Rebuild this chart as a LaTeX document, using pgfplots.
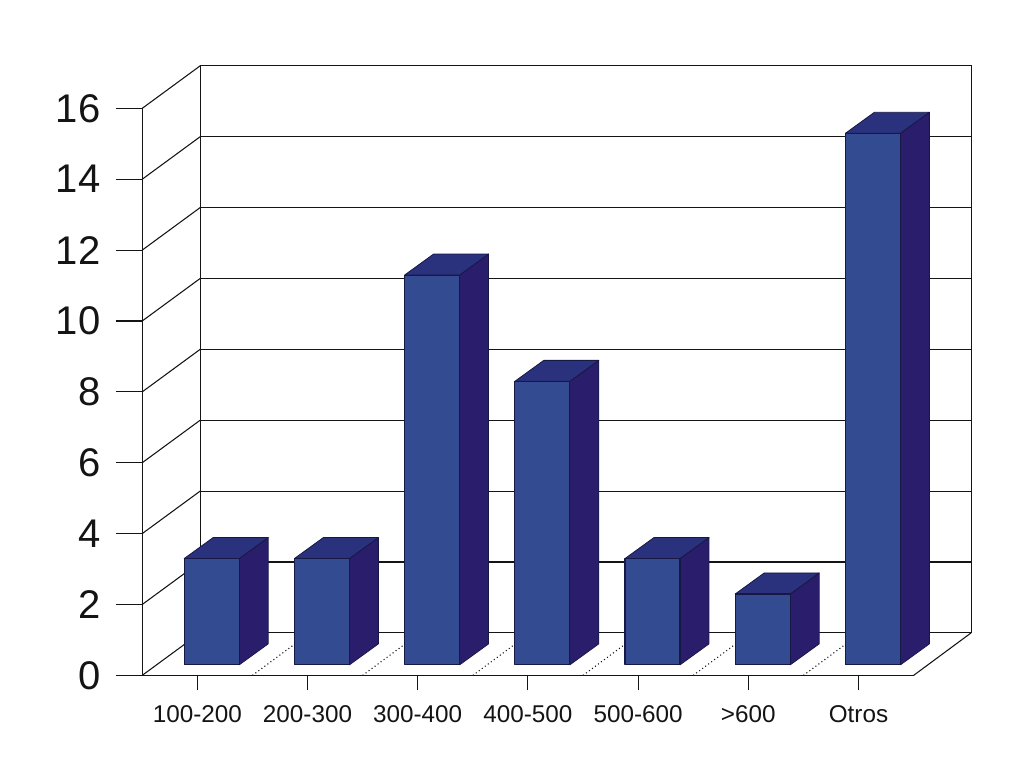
\documentclass[border=0pt]{standalone}
\usepackage{pgfplots}
\pgfplotsset{compat=1.18}
\usepackage{fontspec}
\setmainfont{Liberation Sans}
\definecolor{barfront}{RGB}{51,75,145}
\definecolor{bartop}{RGB}{43,50,125}
\definecolor{barside}{RGB}{42,30,108}
\definecolor{baredge}{RGB}{24,24,70}
\definecolor{ink}{RGB}{20,20,20}
\pgfplotsset{
  front/.style={fill=barfront,draw=baredge,line width=0.8pt,line join=round},
  top/.style={fill=bartop,draw=baredge,line width=0.6pt,line join=round},
  side/.style={fill=barside,draw=baredge,line width=0.6pt,line join=round},
  wall/.style={draw=ink,line width=0.8pt},
  floor/.style={draw=ink,line width=0.8pt,dotted},
}
\begin{document}
\begin{tikzpicture}
\begin{axis}[
  scale only axis,
  width=578.55pt,height=425.25pt,
  xmin=0,xmax=7,ymin=0,ymax=16,
  clip=false,
  axis lines*=left,
  axis line style={-,draw=ink,line width=0.8pt},
  tick align=outside,
  tick style={draw=ink,line width=0.8pt},
  xtick={0.5,1.5,2.5,3.5,4.5,5.5,6.5},
  xticklabels={100-200,200-300,300-400,400-500,500-600,>600,Otros},
  ytick={0,2,4,6,8,10,12,14,16},
  xtick style={/pgfplots/major tick length=11.25pt},
  ytick style={/pgfplots/major tick length=20pt},
  x tick label style={font=\fontsize{18.2}{20}\selectfont,text=ink,anchor=north,yshift=-14.8pt},
  y tick label style={font=\fontsize{30}{34}\selectfont,text=ink,anchor=east,xshift=-23.5pt},
  /pgf/number format/assume math mode=true,
]
\path (axis cs:-1.2905,-2.612) rectangle (axis cs:8.0016,19.058);
% back wall frame and grid lines
\addplot[wall] coordinates {(0.526,1.2) (0.526,17.2) (7.522,17.2) (7.522,1.2) (0.526,1.2)};
\addplot[wall] coordinates {(0.526,3.2) (7.522,3.2)};
\addplot[wall] coordinates {(0.526,5.2) (7.522,5.2)};
\addplot[wall] coordinates {(0.526,7.2) (7.522,7.2)};
\addplot[wall] coordinates {(0.526,9.2) (7.522,9.2)};
\addplot[wall] coordinates {(0.526,11.2) (7.522,11.2)};
\addplot[wall] coordinates {(0.526,13.2) (7.522,13.2)};
\addplot[wall] coordinates {(0.526,15.2) (7.522,15.2)};
% left wall
\addplot[wall] coordinates {(0,0) (0.526,1.2)};
\addplot[wall] coordinates {(0,2) (0.526,3.2)};
\addplot[wall] coordinates {(0,4) (0.526,5.2)};
\addplot[wall] coordinates {(0,6) (0.526,7.2)};
\addplot[wall] coordinates {(0,8) (0.526,9.2)};
\addplot[wall] coordinates {(0,10) (0.526,11.2)};
\addplot[wall] coordinates {(0,12) (0.526,13.2)};
\addplot[wall] coordinates {(0,14) (0.526,15.2)};
\addplot[wall] coordinates {(0,16) (0.526,17.2)};
\addplot[wall] coordinates {(7,0) (7.522,1.2)};
% floor
\addplot[floor] coordinates {(1,0) (1.522,1.2)};
\addplot[floor] coordinates {(2,0) (2.522,1.2)};
\addplot[floor] coordinates {(3,0) (3.522,1.2)};
\addplot[floor] coordinates {(4,0) (4.522,1.2)};
\addplot[floor] coordinates {(5,0) (5.522,1.2)};
\addplot[floor] coordinates {(6,0) (6.522,1.2)};
% 100-200 = 3
\addplot[side]  coordinates {(0.880,0.296) (1.143,0.889) (1.143,3.889) (0.880,3.296)} --cycle;
\addplot[top]   coordinates {(0.381,3.296) (0.644,3.889) (1.143,3.889) (0.880,3.296)} --cycle;
\addplot[front] coordinates {(0.381,0.296) (0.880,0.296) (0.880,3.296) (0.381,3.296)} --cycle;
% 200-300 = 3
\addplot[side]  coordinates {(1.880,0.296) (2.143,0.889) (2.143,3.889) (1.880,3.296)} --cycle;
\addplot[top]   coordinates {(1.381,3.296) (1.644,3.889) (2.143,3.889) (1.880,3.296)} --cycle;
\addplot[front] coordinates {(1.381,0.296) (1.880,0.296) (1.880,3.296) (1.381,3.296)} --cycle;
% 300-400 = 11
\addplot[side]  coordinates {(2.880,0.296) (3.143,0.889) (3.143,11.889) (2.880,11.296)} --cycle;
\addplot[top]   coordinates {(2.381,11.296) (2.644,11.889) (3.143,11.889) (2.880,11.296)} --cycle;
\addplot[front] coordinates {(2.381,0.296) (2.880,0.296) (2.880,11.296) (2.381,11.296)} --cycle;
% 400-500 = 8
\addplot[side]  coordinates {(3.880,0.296) (4.143,0.889) (4.143,8.889) (3.880,8.296)} --cycle;
\addplot[top]   coordinates {(3.381,8.296) (3.644,8.889) (4.143,8.889) (3.880,8.296)} --cycle;
\addplot[front] coordinates {(3.381,0.296) (3.880,0.296) (3.880,8.296) (3.381,8.296)} --cycle;
% 500-600 = 3
\addplot[side]  coordinates {(4.880,0.296) (5.143,0.889) (5.143,3.889) (4.880,3.296)} --cycle;
\addplot[top]   coordinates {(4.381,3.296) (4.644,3.889) (5.143,3.889) (4.880,3.296)} --cycle;
\addplot[front] coordinates {(4.381,0.296) (4.880,0.296) (4.880,3.296) (4.381,3.296)} --cycle;
% >600 = 2
\addplot[side]  coordinates {(5.880,0.296) (6.143,0.889) (6.143,2.889) (5.880,2.296)} --cycle;
\addplot[top]   coordinates {(5.381,2.296) (5.644,2.889) (6.143,2.889) (5.880,2.296)} --cycle;
\addplot[front] coordinates {(5.381,0.296) (5.880,0.296) (5.880,2.296) (5.381,2.296)} --cycle;
% Otros = 15
\addplot[side]  coordinates {(6.880,0.296) (7.143,0.889) (7.143,15.889) (6.880,15.296)} --cycle;
\addplot[top]   coordinates {(6.381,15.296) (6.644,15.889) (7.143,15.889) (6.880,15.296)} --cycle;
\addplot[front] coordinates {(6.381,0.296) (6.880,0.296) (6.880,15.296) (6.381,15.296)} --cycle;
\end{axis}
\end{tikzpicture}
\end{document}
